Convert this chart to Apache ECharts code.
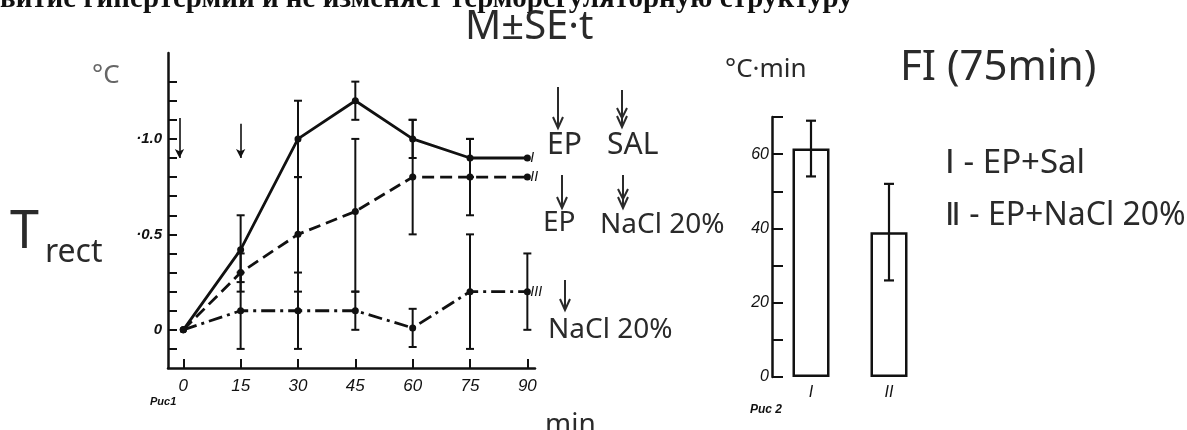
<!DOCTYPE html>
<html><head><meta charset="utf-8">
<script src="https://cdn.jsdelivr.net/npm/echarts@6/dist/echarts.min.js"></script>
<style>html,body{margin:0;padding:0;background:#fff}#c{width:1187px;height:430px}</style>
</head><body><div id="c"></div>
<script>
// ---- Fig.1 data (Trect, °C vs min) ----
const times = [0, 15, 30, 45, 60, 75, 90];
const seriesI   = [0, 0.42, 1.0, 1.2, 1.0, 0.9, 0.9];
const seriesII  = [0, 0.3, 0.5, 0.62, 0.8, 0.8, 0.8];
const seriesIII = [0, 0.1, 0.1, 0.1, 0.01, 0.2, 0.2];
const errILow    = [null, 0.25, 0.8, 1.1, 0.9, 0.8, null];
const errIHigh   = [null, 0.6, 1.2, 1.3, 1.1, 1.0, null];
const errIILow   = [null, 0.2, 0.2, 0.2, 0.5, 0.6, null];
const errIIHigh  = [null, 0.4, 0.8, 1.0, 1.1, 1.0, null];
const errIIILow  = [null, -0.1, -0.1, 0.0, -0.09, -0.1, 0.0];
const errIIIHigh = [null, 0.3, 0.3, 0.2, 0.11, 0.5, 0.4];
const seriesNames = ['I', 'II', 'III'];
const yTickValues = [-0.1, 0, 0.1, 0.2, 0.3, 0.4, 0.5, 0.6, 0.7, 0.8, 0.9, 1.0, 1.1, 1.2, 1.3];
const yLabelValues = [0, 0.5, 1.0];
const yLabelTexts = ['0', '·0.5', '·1.0'];
const arrowTimes = [-1, 15];
const arrowFrom = [1.11, 1.08];
const arrowTo = [0.9, 0.9];
// ---- Fig.2 data (FI 75 min, °C·min) ----
const fiCategories = ['I', 'II'];
const fiValues = [61.5, 39];
const fiErrLow = [54, 26];
const fiErrHigh = [69, 52];
const fiLabelValues = [0, 20, 40, 60];

const INK = '#111';
const HAND = '#2a2a2a';
const HF = '"Noto Sans", sans-serif';
const PF = '"Liberation Sans", Arial, sans-serif';

function errData(lo, hi, xs) {
  const out = [];
  xs.forEach((x, i) => { if (lo[i] != null) out.push([x, lo[i], hi[i]]); });
  return out;
}
function errRender(capHalf, lw) {
  return function (params, api) {
    const x = api.value(0), lo = api.value(1), hi = api.value(2);
    const a = api.coord([x, hi]), b = api.coord([x, lo]);
    const st = { stroke: INK, lineWidth: lw };
    return { type: 'group', children: [
      { type: 'line', shape: { x1: a[0], y1: a[1], x2: b[0], y2: b[1] }, style: st },
      { type: 'line', shape: { x1: a[0] - capHalf, y1: a[1], x2: a[0] + capHalf, y2: a[1] }, style: st },
      { type: 'line', shape: { x1: b[0] - capHalf, y1: b[1], x2: b[0] + capHalf, y2: b[1] }, style: st }
    ]};
  };
}
function lineSeries(vals, name, type) {
  return {
    type: 'line', name: name, xAxisIndex: 0, yAxisIndex: 0,
    data: times.map((t, i) => [t, vals[i]]),
    symbol: 'circle', symbolSize: 7,
    itemStyle: { color: INK },
    lineStyle: { color: INK, width: 2.8, type: type },
    endLabel: { show: true, formatter: name, distance: 3, color: INK, fontStyle: 'italic', fontSize: 14, fontFamily: PF },
    z: 3
  };
}
function txt(x, y, text, size, fill) {
  return { type: 'text', x: x, y: y, silent: true,
    style: { text: text, font: size + 'px ' + HF, fill: fill || HAND, textAlign: 'left', textVerticalAlign: 'middle' } };
}
function arrow(x, y1, y2, dbl) {
  const st = { stroke: HAND, lineWidth: 2 };
  const els = [
    { type: 'line', shape: { x1: x, y1: y1, x2: x, y2: y2 }, style: st },
    { type: 'polyline', shape: { points: [[x - 5, y2 - 11], [x, y2], [x + 5, y2 - 11]] }, style: st }
  ];
  if (dbl) els.push({ type: 'polyline', shape: { points: [[x - 5, y2 - 19], [x, y2 - 9], [x + 5, y2 - 19]] }, style: st });
  return { type: 'group', silent: true, children: els };
}

const chart = echarts.init(document.getElementById('c'), null, { renderer: 'canvas' });
chart.setOption({
  animation: false,
  backgroundColor: '#fff',
  grid: [
    { left: 168, top: 53, width: 367, height: 315 },
    { left: 772, top: 117, width: 156, height: 260 }
  ],
  xAxis: [
    { type: 'value', gridIndex: 0, min: -4, max: 92,
      axisLine: { show: true, onZero: false, lineStyle: { color: INK, width: 2.5 } },
      axisTick: { show: true, inside: true, length: 9, customValues: times, lineStyle: { color: INK, width: 2 } },
      axisLabel: { customValues: times, margin: 10, color: INK, fontSize: 17, fontStyle: 'italic', fontFamily: PF },
      splitLine: { show: false } },
    { type: 'category', gridIndex: 1, data: fiCategories,
      axisLine: { show: false }, axisTick: { show: false },
      axisLabel: { margin: 8, color: INK, fontSize: 16, fontStyle: 'italic', fontFamily: PF },
      splitLine: { show: false } }
  ],
  yAxis: [
    { type: 'value', gridIndex: 0, min: -0.2, max: 1.45,
      axisLine: { show: true, onZero: false, lineStyle: { color: INK, width: 2.5 } },
      axisTick: { show: true, inside: true, length: 9, customValues: yTickValues, lineStyle: { color: INK, width: 2 } },
      axisLabel: { customValues: yLabelValues, margin: 6, color: INK, fontSize: 15, fontStyle: 'italic', fontWeight: 'bold', fontFamily: PF,
        formatter: function (v) { for (let i = 0; i < yLabelValues.length; i++) if (Math.abs(v - yLabelValues[i]) < 1e-6) return yLabelTexts[i]; return ''; } },
      splitLine: { show: false } },
    { type: 'value', gridIndex: 1, min: 0, max: 70, interval: 10,
      axisLine: { show: true, onZero: false, lineStyle: { color: INK, width: 2.5 } },
      axisTick: { show: true, inside: true, length: 11, lineStyle: { color: INK, width: 2 } },
      axisLabel: { margin: 3, color: INK, fontSize: 16, fontStyle: 'italic', fontFamily: PF,
        formatter: function (v) { return fiLabelValues.indexOf(v) >= 0 ? String(v) : ''; } },
      splitLine: { show: false } }
  ],
  series: [
    Object.assign(lineSeries(seriesI, seriesNames[0], 'solid'), {
      markLine: { silent: true, symbol: ['none', 'arrow'], symbolSize: [7, 9], label: { show: false },
        lineStyle: { color: INK, width: 1.6, type: 'solid' },
        data: arrowTimes.map((t, i) => [{ coord: [t, arrowFrom[i]] }, { coord: [t, arrowTo[i]] }]) }
    }),
    lineSeries(seriesII, seriesNames[1], [12, 6]),
    lineSeries(seriesIII, seriesNames[2], [14, 5, 3, 5]),
    { type: 'custom', xAxisIndex: 0, yAxisIndex: 0, renderItem: errRender(4, 2), data: errData(errILow, errIHigh, times), z: 2 },
    { type: 'custom', xAxisIndex: 0, yAxisIndex: 0, renderItem: errRender(4, 2), data: errData(errIILow, errIIHigh, times), z: 2 },
    { type: 'custom', xAxisIndex: 0, yAxisIndex: 0, renderItem: errRender(4, 2), data: errData(errIIILow, errIIIHigh, times), z: 2 },
    { type: 'bar', xAxisIndex: 1, yAxisIndex: 1, data: fiValues, barWidth: 37,
      itemStyle: { color: '#fff', borderColor: INK, borderWidth: 2.5 }, z: 2 },
    { type: 'custom', xAxisIndex: 1, yAxisIndex: 1, renderItem: errRender(5, 2.2),
      data: fiCategories.map((c, i) => [i, fiErrLow[i], fiErrHigh[i]]), z: 4 }
  ],
  graphic: { elements: [
    { type: 'text', x: 0, y: 14, silent: true,
      style: { text: 'витие гипертермии и не изменяет терморегуляторную структуру', font: 'bold 29px "Liberation Serif", serif', fill: INK, textAlign: 'left', textVerticalAlign: 'bottom' } },
    txt(465, 28, 'M±SE·t', 40),
    txt(92, 76, '°C', 26, '#666'),
    txt(10, 233, 'T', 52),
    txt(45, 253, 'rect', 32),
    arrow(558, 87, 128, false),
    arrow(622, 90, 127, true),
    txt(547, 145, 'EP', 30),
    txt(607, 145, 'SAL', 30),
    arrow(562, 175, 208, false),
    arrow(623, 175, 208, true),
    txt(543, 223, 'EP', 28),
    txt(600, 225, 'NaCl 20%', 28),
    arrow(565, 280, 310, false),
    txt(548, 330, 'NaCl 20%', 28),
    txt(545, 425, 'min', 28),
    { type: 'text', x: 150, y: 402, silent: true, style: { text: 'Puc1', font: 'italic bold 11px ' + PF, fill: INK, textVerticalAlign: 'middle' } },
    { type: 'text', x: 750, y: 410, silent: true, style: { text: 'Puc 2', font: 'italic bold 12px ' + PF, fill: INK, textVerticalAlign: 'middle' } },
    txt(725, 70, '°C·min', 26),
    txt(900, 68, 'FI (75min)', 42),
    txt(945, 164, 'Ⅰ - EP+Sal', 33),
    txt(945, 216, 'Ⅱ - EP+NaCl 20%', 32)
  ] }
});
</script></body></html>
